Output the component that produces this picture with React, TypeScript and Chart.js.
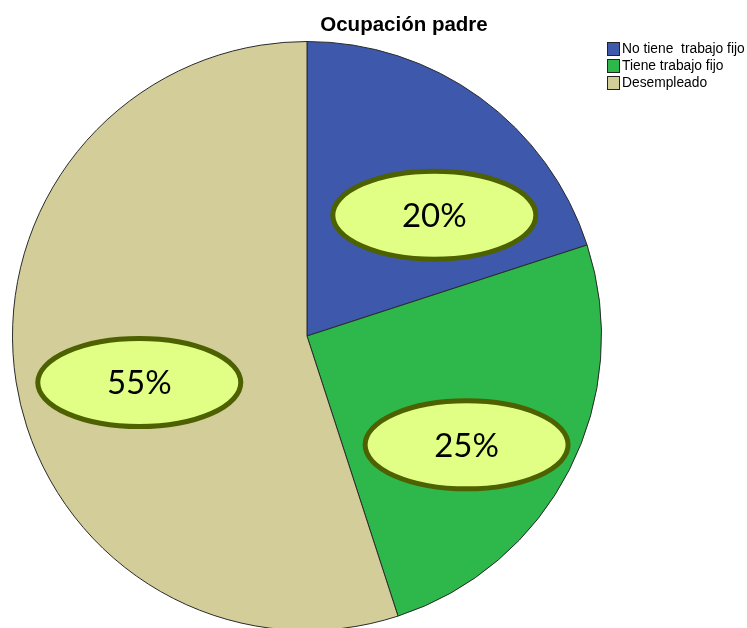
import React, { useEffect, useRef } from "react";
import { Chart, registerables } from "chart.js";

Chart.register(...registerables);

const title = "Ocupación padre";
const categories = ["No tiene  trabajo fijo", "Tiene trabajo fijo", "Desempleado"];
const percentages = [20, 25, 55];
const sliceColors = ["#3E58AC", "#2EB84B", "#D3CE99"];
// label placement per slice: angle offset (deg) from slice mid-angle, radius fraction
const labelAngleOffset = [10.5, 7.3, -6.5];
const labelRadiusFrac = [0.596, 0.656, 0.591];

const W = 747;
const H = 628;
const CANVAS_H = 632;

export default function App() {
  const ref = useRef<HTMLCanvasElement | null>(null);
  useEffect(() => {
    const canvas = ref.current!;
    const overlay = {
      id: "overlay",
      afterDatasetsDraw(chart: any) {
        const ctx = chart.ctx;
        const meta = chart.getDatasetMeta(0);
        meta.data.forEach((arc: any, i: number) => {
          const mid = (arc.startAngle + arc.endAngle) / 2 + (labelAngleOffset[i] * Math.PI) / 180;
          const r = arc.outerRadius * labelRadiusFrac[i];
          const cx = arc.x + Math.cos(mid) * r;
          const cy = arc.y + Math.sin(mid) * r;
          ctx.save();
          ctx.beginPath();
          ctx.ellipse(cx, cy, 101.5, 44, 0, 0, Math.PI * 2);
          ctx.fillStyle = "#E0FF84";
          ctx.fill();
          ctx.lineWidth = 5;
          ctx.strokeStyle = "#4D6100";
          ctx.stroke();
          ctx.fillStyle = "#000";
          ctx.font = "33px Lato, 'Liberation Sans', sans-serif";
          ctx.textAlign = "center";
          ctx.textBaseline = "middle";
          ctx.fillText(percentages[i] + "%", cx, cy + 1);
          ctx.restore();
        });
      },
      afterDraw(chart: any) {
        const ctx = chart.ctx;
        ctx.save();
        ctx.fillStyle = "#000";
        ctx.font = "bold 20.5px 'Liberation Sans', Arial, sans-serif";
        ctx.textAlign = "center";
        ctx.textBaseline = "alphabetic";
        ctx.fillText(title, 404, 31);
        // legend
        ctx.font = "13.8px 'Liberation Sans', Arial, sans-serif";
        ctx.textAlign = "left";
        ctx.textBaseline = "middle";
        categories.forEach((c, i) => {
          const y = 49 + i * 17;
          ctx.fillStyle = sliceColors[i];
          ctx.fillRect(607.5, y - 6.5, 12, 13);
          ctx.strokeStyle = "#222";
          ctx.lineWidth = 1;
          ctx.strokeRect(607.5, y - 6.5, 12, 13);
          ctx.fillStyle = "#000";
          ctx.fillText(c, 622, y + 0.5);
        });
        ctx.restore();
      },
    };
    const chart = new Chart(canvas, {
      type: "pie",
      data: {
        labels: categories,
        datasets: [
          {
            data: percentages,
            backgroundColor: sliceColors,
            borderColor: "#2a2a2a",
            borderWidth: 1,
          },
        ],
      },
      options: {
        responsive: false,
        animation: false,
        layout: { padding: { left: 12, top: 41, right: 145, bottom: 1 } },
        plugins: {
          legend: { display: false },
          title: { display: false },
          tooltip: { enabled: false },
        },
      },
      plugins: [overlay],
    });
    return () => chart.destroy();
  }, []);
  return (
    <div style={{ position: "absolute", left: 0, top: 0, width: W, height: H, overflow: "hidden", background: "#fff" }}>
      <canvas ref={ref} width={W} height={CANVAS_H} style={{ display: "block", width: W, height: CANVAS_H }} />
    </div>
  );
}
